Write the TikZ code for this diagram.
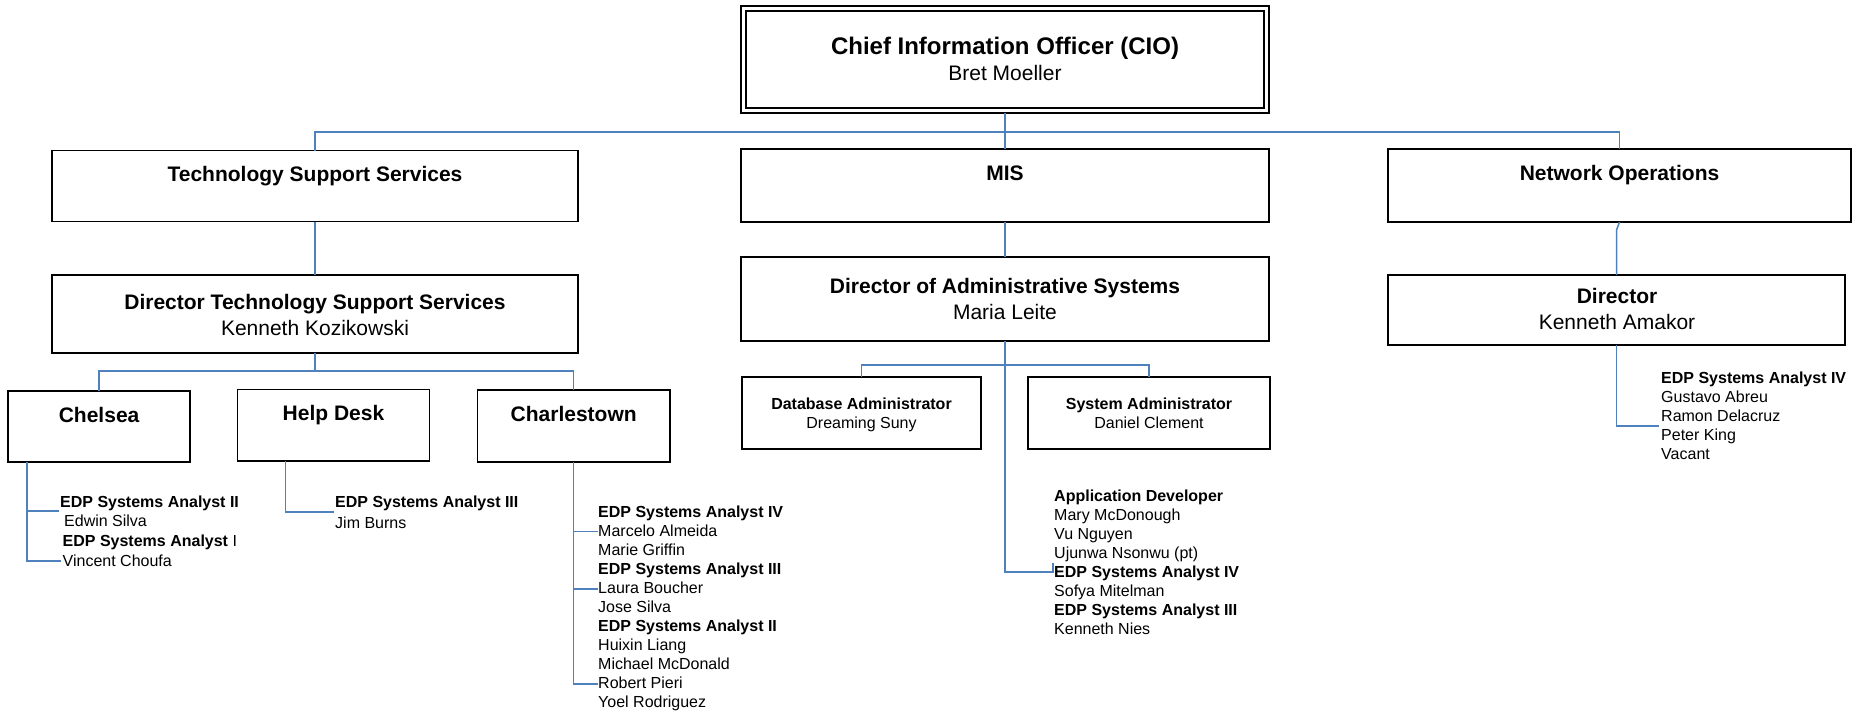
\documentclass[tikz,border=0pt]{standalone}
\usepackage{fontspec}
\setmainfont{Liberation Sans}
\definecolor{linkblue}{RGB}{79,129,189}
\begin{document}
\begin{tikzpicture}[x=1pt,y=-1pt,
  box/.style={draw=black,line width=1.5pt,inner sep=0pt,outer sep=0pt},
  conn/.style={draw=linkblue,line width=1.5pt},
  big/.style={font=\fontsize{21}{24}\selectfont\bfseries,inner sep=0pt,anchor=base},
  bignm/.style={font=\fontsize{21}{24}\selectfont,inner sep=0pt,anchor=base},
  sm/.style={font=\fontsize{16}{19}\selectfont,inner sep=0pt,anchor=base west},
  smc/.style={font=\fontsize{16}{19}\selectfont,inner sep=0pt,anchor=base},
]
\useasboundingbox (0,0) rectangle (1857,713);
% boxes
\node[box,minimum width=528pt,minimum height=107pt] (cio) at (1005,59.5) {};
\node[box,minimum width=518pt,minimum height=97pt] (cioin) at (1005,59.5) {};
\node[font=\fontsize{24}{28}\selectfont\bfseries,inner sep=0pt,anchor=base] (ciot) at (1005,54) {Chief Information Officer (CIO)};
\node[bignm] (cion) at (1005,80) {Bret Moeller};

\node[box,minimum width=526pt,minimum height=71pt] (tss) at (315,186.2) {};
\node[big] (tsst) at (315,181) {Technology Support Services};
\node[box,minimum width=528pt,minimum height=73pt] (mis) at (1005,185.5) {};
\node[big] (mist) at (1005,180) {MIS};
\node[box,minimum width=463pt,minimum height=73pt] (net) at (1619.5,185.5) {};
\node[big] (nett) at (1619.5,180) {Network Operations};

\node[box,minimum width=526pt,minimum height=78pt] (dtss) at (315,314) {};
\node[big] (dtsst) at (315,309) {Director Technology Support Services};
\node[bignm] (dtssn) at (315,335) {Kenneth Kozikowski};
\node[box,minimum width=528pt,minimum height=84pt] (dadm) at (1005,299) {};
\node[big] (dadmt) at (1005,293) {Director of Administrative Systems};
\node[bignm] (dadmn) at (1005,319) {Maria Leite};
\node[box,minimum width=457pt,minimum height=70pt] (dnet) at (1616.5,310) {};
\node[big] (dnett) at (1617,303) {Director};
\node[bignm] (dnetn) at (1617,329) {Kenneth Amakor};

\node[box,minimum width=182pt,minimum height=71pt] (chel) at (99.1,426.5) {};
\node[big] (chelt) at (99.1,422) {Chelsea};
\node[box,minimum width=192pt,minimum height=71.4pt] (help) at (333.5,425.3) {};
\node[big] (helpt) at (333.5,420) {Help Desk};
\node[box,minimum width=192.5pt,minimum height=72pt] (charl) at (573.7,426) {};
\node[big] (charlt) at (573.7,421) {Charlestown};

\node[box,minimum width=239pt,minimum height=72pt] (db) at (861.5,413) {};
\node[smc,font=\fontsize{16}{19}\selectfont\bfseries] (dbt) at (861.5,409) {Database Administrator};
\node[smc] (dbn) at (861.5,428) {Dreaming Suny};
\node[box,minimum width=242pt,minimum height=72pt] (sys) at (1149,413) {};
\node[smc,font=\fontsize{16}{19}\selectfont\bfseries] (syst) at (1149,409) {System Administrator};
\node[smc] (sysn) at (1149,428) {Daniel Clement};

% connectors
\coordinate (bus1) at (1005,132);
\draw[conn] (cio.south) -- (mis.north);
\draw[conn] (tss.north) -- (tss.north |- bus1) -- (net.north |- bus1) -- (net.north);
\draw[conn] (tss.south) -- (dtss.north);
\draw[conn] (mis.south) -- (dadm.north);
\coordinate (kink) at (1617,230);
\draw[conn] (net.south) -- (dnet.north |- kink) -- (dnet.north);

\coordinate (bus2) at (0,371);
\draw[conn] (dtss.south) -- (dtss.south |- bus2);
\draw[conn] (chel.north) -- (chel.north |- bus2) -- (charl.north |- bus2) -- (charl.north);

\coordinate (bus3) at (0,365);
\draw[conn] (db.north) -- (db.north |- bus3) -- (sys.north |- bus3) -- (sys.north);
\coordinate (appdev) at (1053,572);
\draw[conn] (dadm.south) -- (dadm.south |- appdev) -- (appdev) -- ++(0,-9);

\coordinate (netx) at (1659,426);
\draw[conn] (dnet.south) -- (dnet.south |- netx) -- (netx);

\coordinate (che1) at (59,511);
\coordinate (che2) at (61,561);
\draw[conn] (chel.south west) ++(19,0) coordinate (chs) -- (chs |- che2) -- (che2);
\draw[conn] (chs |- che1) -- (che1);

\coordinate (hd1) at (334,512);
\draw[conn] (help.south west) ++(48.2,0) coordinate (hds) -- (hds |- hd1) -- (hd1);

\coordinate (cl1) at (598,531.7);
\coordinate (cl2) at (598,589);
\coordinate (cl3) at (598,684);
\draw[conn] (charl.south) -- (charl.south |- cl3) -- (cl3);
\draw[conn] (charl.south |- cl1) -- (cl1);
\draw[conn] (charl.south |- cl2) -- (cl2);

% lists
\node[sm] (c1) at (60,507) {\textbf{EDP Systems Analyst II}};
\node[sm] (c2) at (64,526.5) {Edwin Silva};
\node[sm] (c3) at (62.5,546) {\textbf{EDP Systems Analyst} I};
\node[sm] (c4) at (62.5,566) {Vincent Choufa};

\node[sm] (h1) at (335,507) {\textbf{EDP Systems Analyst III}};
\node[sm] (h2) at (335,528) {Jim Burns};

\foreach \t [count=\i] in {{\textbf{EDP Systems Analyst IV}},Marcelo Almeida,Marie Griffin,{\textbf{EDP Systems Analyst III}},Laura Boucher,Jose Silva,{\textbf{EDP Systems Analyst II}},Huixin Liang,Michael McDonald,Robert Pieri,Yoel Rodriguez}
  \node[sm] (cl\i) at (598,{517.7+19*(\i-1)}) {\t};

\foreach \t [count=\i] in {{\textbf{Application Developer}},Mary McDonough,Vu Nguyen,Ujunwa Nsonwu (pt),{\textbf{EDP Systems Analyst IV}},Sofya Mitelman,{\textbf{EDP Systems Analyst III}},Kenneth Nies}
  \node[sm] (ad\i) at (1054,{501+19*(\i-1)}) {\t};

\foreach \t [count=\i] in {{\textbf{EDP Systems Analyst IV}},Gustavo Abreu,Ramon Delacruz,Peter King,Vacant}
  \node[sm] (nt\i) at (1661,{383+19*(\i-1)}) {\t};
\end{tikzpicture}
\end{document}
